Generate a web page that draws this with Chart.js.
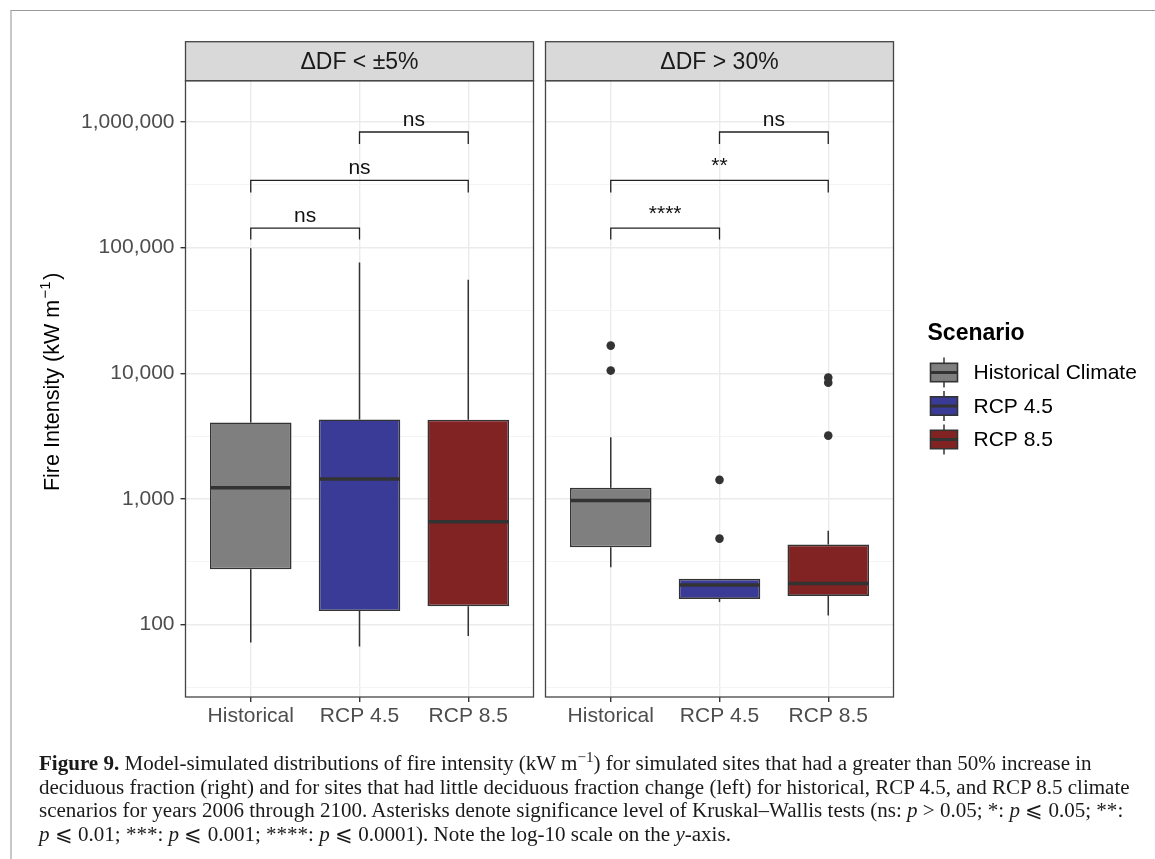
<!DOCTYPE html>
<html>
<head>
<meta charset="utf-8">
<script src="https://cdn.jsdelivr.net/npm/chart.js"></script>
<style>
  html, body { margin: 0; padding: 0; background: #fff; }
  body { width: 1155px; height: 859px; position: relative; overflow: hidden; }
  #frame { position: absolute; left: 10px; top: 10px; width: 1200px; height: 900px;
           border-left: 2px solid #c8c8c8; border-top: 1px solid #9a9a9a; }
  #left { position: absolute; left: 0; top: 0; }
  #right { position: absolute; left: 540px; top: 0; }
  #caption { position: absolute; left: 39px; top: 752px; font-family: "Liberation Serif", serif;
             font-size: 19px; line-height: 23.5px; color: #1a1a1a; white-space: nowrap; }
  #caption .sup { font-size: 0.72em; vertical-align: 0.5em; line-height: 0; }
</style>
</head>
<body>
<div id="frame"></div>
<canvas id="left" width="540" height="750"></canvas>
<canvas id="right" width="615" height="750"></canvas>
<div id="caption">
<span class="ln"><b>Figure 9.</b> Model-simulated distributions of fire intensity (kW m<span class="sup">−1</span>) for simulated sites that had a greater than 50% increase in</span><br>
<span class="ln">deciduous fraction (right) and for sites that had little deciduous fraction change (left) for historical, RCP 4.5, and RCP 8.5 climate</span><br>
<span class="ln">scenarios for years 2006 through 2100. Asterisks denote significance level of Kruskal–Wallis tests (ns: <i>p</i> &gt; 0.05; *: <i>p</i> ⩽ 0.05; **:</span><br>
<span class="ln"><i>p</i> ⩽ 0.01; ***: <i>p</i> ⩽ 0.001; ****: <i>p</i> ⩽ 0.0001). Note the log-10 scale on the <i>y</i>-axis.</span>
</div>
<script>
// categories and legend
const scenarios = ['Historical', 'RCP 4.5', 'RCP 8.5'];
const legendLabels = ['Historical Climate', 'RCP 4.5', 'RCP 8.5'];
const scenarioColors = ['#7f7f7f', '#3a3a97', '#822323'];
const panelTitles = ['ΔDF < ±5%', 'ΔDF > 30%'];
const yTitle = ['Fire Intensity (kW m', '−1', ')'];

// y axis (log 10)
const yTickValues = [100, 1000, 10000, 100000, 1000000];
const yTickLabels = ['100', '1,000', '10,000', '100,000', '1,000,000'];
const yMin = 26.5;
const yMax = 2130000;

// ΔDF < ±5% panel : whisker ends, quartiles, medians
const smallLower = [72, 67, 81];
const smallQ1 = [275, 128, 140];
const smallMedian = [1224, 1443, 659];
const smallQ3 = [4055, 4285, 4270];
const smallUpper = [99000, 76000, 55600];
const smallOutliers = [[], [], []];

// ΔDF > 30% panel
const bigLower = [286, 151, 118];
const bigQ1 = [412, 160, 169];
const bigMedian = [969, 206, 212];
const bigQ3 = [1224, 231, 433];
const bigUpper = [3100, 231, 559];
const bigOutliers = [[16600, 10500], [1417, 483], [9230, 8420, 3190]];

// Kruskal-Wallis brackets (same layout in both panels)
const bracketFrom = [1, 1, 2];
const bracketTo = [2, 3, 3];
const bracketLevel = [143000, 343000, 832000];
const bracketTip = [116000, 274000, 668000];
const smallSig = ['ns', 'ns', 'ns'];
const bigSig = ['****', '**', 'ns'];

const FONT = "'Liberation Sans', Arial, sans-serif";
Chart.defaults.font.family = FONT;
Chart.defaults.animation = false;

// grid at every decade plus half decades (minor)
const gridValues = [];
yTickValues.forEach(v => { gridValues.push(v / Math.sqrt(10)); gridValues.push(v); });
gridValues.push(yTickValues[yTickValues.length - 1] * Math.sqrt(10));
const isMajor = v => yTickValues.indexOf(v) >= 0;

function makePanel(id, title, lower, q1, med, q3, upper, outliers, sig, isLeft) {
  const boxes = scenarios.map((s, i) => ({ x: i + 1, y: [q1[i], q3[i]] }));
  const pts = [];
  outliers.forEach((list, i) => list.forEach(v => pts.push({ x: i + 1, y: v })));

  const extras = {
    id: 'extras',
    beforeDatasetsDraw(chart) {
      const { ctx, scales: { x, y } } = chart;
      ctx.save();
      ctx.strokeStyle = '#333';
      ctx.lineWidth = 1.5;
      scenarios.forEach((s, i) => {
        const px = x.getPixelForValue(i + 1);
        ctx.beginPath();
        ctx.moveTo(px, y.getPixelForValue(upper[i]));
        ctx.lineTo(px, y.getPixelForValue(q3[i]));
        ctx.moveTo(px, y.getPixelForValue(q1[i]));
        ctx.lineTo(px, y.getPixelForValue(lower[i]));
        ctx.stroke();
      });
      ctx.restore();
    },
    afterDatasetsDraw(chart) {
      const { ctx, scales: { x, y } } = chart;
      const bars = chart.getDatasetMeta(0).data;
      ctx.save();
      // medians
      ctx.strokeStyle = '#333';
      ctx.lineWidth = 3.5;
      scenarios.forEach((s, i) => {
        const px = x.getPixelForValue(i + 1);
        const hw = bars[i].width / 2 - 1;
        const py = y.getPixelForValue(med[i]);
        ctx.beginPath();
        ctx.moveTo(px - hw, py);
        ctx.lineTo(px + hw, py);
        ctx.stroke();
      });
      // brackets
      ctx.lineWidth = 1.3;
      ctx.strokeStyle = '#222';
      ctx.fillStyle = '#111';
      ctx.font = '21px ' + FONT;
      ctx.textAlign = 'center';
      ctx.textBaseline = 'alphabetic';
      bracketFrom.forEach((f, k) => {
        const xa = x.getPixelForValue(f);
        const xb = x.getPixelForValue(bracketTo[k]);
        const yl = y.getPixelForValue(bracketLevel[k]);
        const yt = y.getPixelForValue(bracketTip[k]);
        ctx.beginPath();
        ctx.moveTo(xa, yt);
        ctx.lineTo(xa, yl);
        ctx.lineTo(xb, yl);
        ctx.lineTo(xb, yt);
        ctx.stroke();
        const lift = sig[k].charAt(0) === '*' ? 2 : 0;
        ctx.fillText(sig[k], (xa + xb) / 2, yl - 6 - lift);
      });
      ctx.restore();
    },
    afterDraw(chart) {
      const { ctx, chartArea: a } = chart;
      ctx.save();
      // panel border
      ctx.strokeStyle = '#444';
      ctx.lineWidth = 1.3;
      ctx.strokeRect(a.left, a.top, a.right - a.left, a.bottom - a.top);
      // facet strip
      const sh = 39;
      ctx.fillStyle = '#d9d9d9';
      ctx.fillRect(a.left, a.top - sh, a.right - a.left, sh);
      ctx.strokeRect(a.left, a.top - sh, a.right - a.left, sh);
      ctx.fillStyle = '#1a1a1a';
      ctx.font = '23px ' + FONT;
      ctx.textAlign = 'center';
      ctx.textBaseline = 'middle';
      ctx.fillText(title, (a.left + a.right) / 2, a.top - sh / 2 + 1);
      // y axis title with superscript
      if (isLeft) {
        ctx.fillStyle = '#000';
        ctx.textAlign = 'left';
        ctx.textBaseline = 'alphabetic';
        ctx.font = '21.5px ' + FONT;
        const w0 = ctx.measureText(yTitle[0]).width;
        const w2 = ctx.measureText(yTitle[2]).width;
        ctx.font = '15px ' + FONT;
        const w1 = ctx.measureText(yTitle[1]).width;
        const total = w0 + w1 + w2 + 3;
        const cy = (a.top + a.bottom) / 2 - 7;
        ctx.translate(58.5, cy + total / 2);
        ctx.rotate(-Math.PI / 2);
        ctx.fillText(yTitle[1], w0 + 1.5, -9);
        ctx.font = '21.5px ' + FONT;
        ctx.fillText(yTitle[0], 0, 0);
        ctx.fillText(yTitle[2], w0 + w1 + 3, 0);
        ctx.setTransform(1, 0, 0, 1, 0, 0);
      }
      // legend
      if (!isLeft) {
        const lx = a.right + 34;
        ctx.textAlign = 'left';
        ctx.textBaseline = 'middle';
        ctx.fillStyle = '#000';
        ctx.font = 'bold 23px ' + FONT;
        ctx.fillText('Scenario', lx, 334);
        ctx.font = '21px ' + FONT;
        legendLabels.forEach((lab, i) => {
          const cy = 372.5 + i * 33.5;
          const bx = lx + 3, bw = 27, bh = 18.4;
          ctx.strokeStyle = '#333';
          ctx.lineWidth = 1.5;
          ctx.beginPath();
          ctx.moveTo(bx + bw / 2, cy - 15);
          ctx.lineTo(bx + bw / 2, cy + 15);
          ctx.stroke();
          ctx.fillStyle = scenarioColors[i];
          ctx.fillRect(bx, cy - bh / 2, bw, bh);
          ctx.lineWidth = 1.6;
          ctx.strokeRect(bx, cy - bh / 2, bw, bh);
          ctx.lineWidth = 3;
          ctx.beginPath();
          ctx.moveTo(bx, cy);
          ctx.lineTo(bx + bw, cy);
          ctx.stroke();
          ctx.fillStyle = '#000';
          ctx.fillText(lab, bx + 43, cy + 1);
        });
      }
      ctx.restore();
    }
  };

  return new Chart(document.getElementById(id), {
    type: 'bar',
    data: {
      datasets: [
        {
          type: 'bar',
          data: boxes,
          backgroundColor: scenarioColors,
          borderColor: '#333',
          borderWidth: 1.6,
          borderSkipped: false,
          barPercentage: 0.75,
          categoryPercentage: 1
        },
        {
          type: 'scatter',
          data: pts,
          backgroundColor: '#333',
          borderWidth: 0,
          pointRadius: 4.3
        }
      ]
    },
    options: {
      responsive: false,
      layout: { padding: { top: 80.7, right: isLeft ? 6.5 : 261.5, left: 0, bottom: 0 } },
      plugins: { legend: { display: false }, tooltip: { enabled: false } },
      scales: {
        x: {
          type: 'linear',
          min: 0.4,
          max: 3.6,
          offset: false,
          afterBuildTicks: s => { s.ticks = scenarios.map((c, i) => ({ value: i + 1 })); },
          afterFit: s => { s.height = 53; },
          ticks: {
            callback: v => scenarios[v - 1] || '',
            font: { size: 21 },
            color: '#4d4d4d',
            padding: 2,
            autoSkip: false,
            maxRotation: 0
          },
          grid: { color: '#ebebeb', lineWidth: 1.4, tickColor: '#333', tickLength: 5, offset: false },
          border: { display: false }
        },
        y: {
          type: 'logarithmic',
          min: yMin,
          max: yMax,
          bounds: 'data',
          beginAtZero: false,
          afterBuildTicks: s => {
            s.ticks = gridValues.filter(v => v >= yMin && v <= yMax).map(v => ({ value: v }));
          },
          afterFit: s => { s.width = isLeft ? 185.5 : 5.5; },
          ticks: {
            display: isLeft,
            autoSkip: false,
            callback: v => { const k = yTickValues.indexOf(v); return k < 0 ? '' : yTickLabels[k]; },
            font: { size: 21 },
            color: '#4d4d4d',
            padding: 6
          },
          grid: {
            color: c => (c.tick && isMajor(c.tick.value)) ? '#ebebeb' : '#f3f3f3',
            lineWidth: c => (c.tick && isMajor(c.tick.value)) ? 1.4 : 0.9,
            tickColor: c => (isLeft && c.tick && isMajor(c.tick.value)) ? '#333' : 'rgba(0,0,0,0)',
            tickLength: 5
          },
          border: { display: false },
          title: { display: false }
        }
      }
    },
    plugins: [extras]
  });
}

makePanel('left', panelTitles[0], smallLower, smallQ1, smallMedian, smallQ3, smallUpper, smallOutliers, smallSig, true);
makePanel('right', panelTitles[1], bigLower, bigQ1, bigMedian, bigQ3, bigUpper, bigOutliers, bigSig, false);

// fit caption type size to the figure width
const cap = document.getElementById('caption');
const lines = cap.querySelectorAll('.ln');
const targets = [1061, 1100, 1068];
let measured = 0;
lines.forEach((l, i) => { if (i < 3) measured += l.getBoundingClientRect().width; });
cap.style.fontSize = (19 * targets.reduce((a, b) => a + b, 0) / measured) + 'px';
</script>
</body>
</html>
